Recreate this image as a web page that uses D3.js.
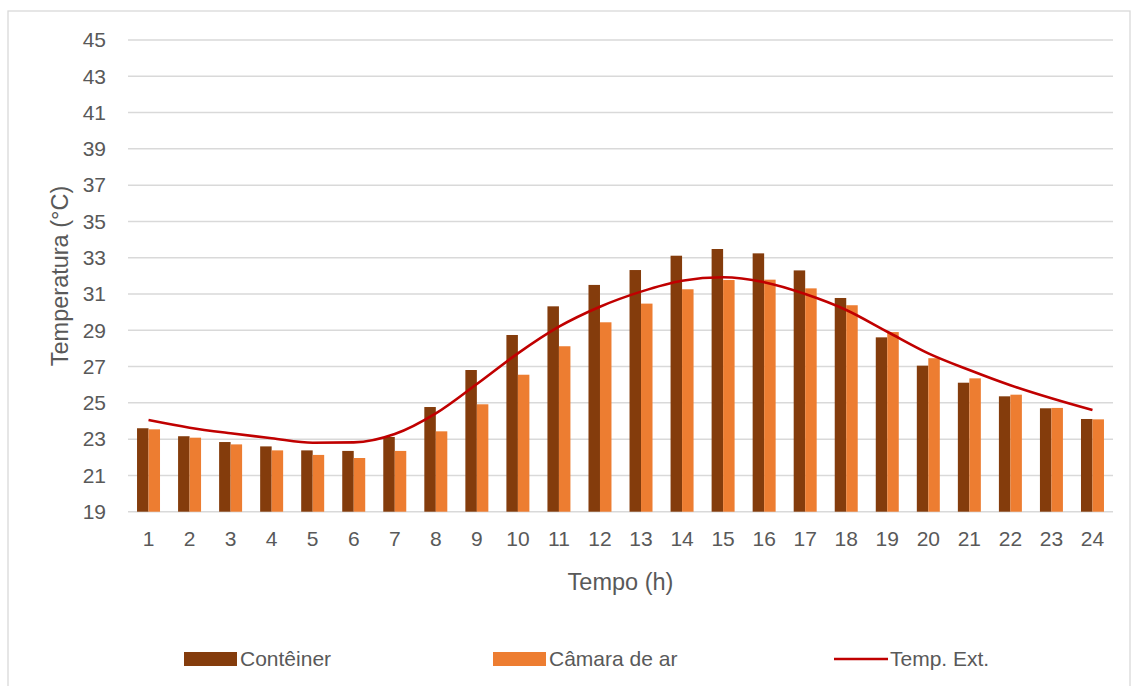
<!DOCTYPE html>
<html>
<head>
<meta charset="utf-8">
<script src="https://cdn.jsdelivr.net/npm/d3@7"></script>
<style>
  html, body { margin: 0; padding: 0; background: #fff; }
  svg { display: block; font-family: "Liberation Sans", Arial, sans-serif; }
</style>
</head>
<body>
<svg id="chart" width="1131" height="686"></svg>
<script>
// Hourly temperatures (°C)
const hours = [1, 2, 3, 4, 5, 6, 7, 8, 9, 10, 11, 12, 13, 14, 15, 16, 17, 18, 19, 20, 21, 22, 23, 24];
const conteiner = [23.6, 23.16, 22.84, 22.6, 22.38, 22.35, 23.12, 24.77, 26.81, 28.74, 30.32, 31.5,
                   32.32, 33.11, 33.48, 33.24, 32.3, 30.78, 28.61, 27.05, 26.11, 25.36, 24.7, 24.11];
const camaraAr = [23.54, 23.08, 22.71, 22.38, 22.13, 21.96, 22.35, 23.43, 24.92, 26.55, 28.12, 29.44,
                  30.47, 31.26, 31.77, 31.79, 31.31, 30.38, 28.9, 27.46, 26.35, 25.45, 24.72, 24.09];
const tempExt = [24.05, 23.63, 23.32, 23.05, 22.8, 22.82, 23.28, 24.42, 26.04, 27.73, 29.2, 30.3,
                 31.13, 31.73, 31.92, 31.65, 31.0, 30.12, 28.92, 27.73, 26.81, 25.97, 25.25, 24.6];
const yTicks = [19, 21, 23, 25, 27, 29, 31, 33, 35, 37, 39, 41, 43, 45];
const seriesNames = ["Contêiner", "Câmara de ar", "Temp. Ext."];
const colors = { bar1: "#843C0C", bar2: "#ED7D31", line: "#C00000", grid: "#D9D9D9", text: "#595959" };

const svg = d3.select("#chart");
const plot = { left: 128, right: 1113, top: 40, bottom: 511.7 };

// chart frame
svg.append("rect")
  .attr("x", 8).attr("y", 11).attr("width", 1122).attr("height", 690)
  .attr("fill", "none").attr("stroke", colors.grid).attr("stroke-width", 1.3);

const x = d3.scaleBand().domain(hours).range([plot.left, plot.right])
  .paddingInner(0.44).paddingOuter(0.22);
const xSeries = d3.scaleBand().domain([0, 1]).range([0, x.bandwidth()]).padding(0);
const y = d3.scaleLinear().domain([19, 45]).range([plot.bottom, plot.top]);

// horizontal gridlines
svg.append("g").selectAll("line").data(yTicks).join("line")
  .attr("x1", plot.left).attr("x2", plot.right)
  .attr("y1", d => y(d)).attr("y2", d => y(d))
  .attr("stroke", colors.grid).attr("stroke-width", 1.5);

// y axis labels
const yAxis = d3.axisLeft(y).tickValues(yTicks).tickSize(0).tickPadding(0);
const gy = svg.append("g").attr("transform", "translate(106,0)").call(yAxis);
gy.select(".domain").remove();
gy.selectAll("text").attr("font-size", 21).attr("fill", colors.text)
  .attr("font-family", "Liberation Sans, Arial, sans-serif");

// x axis labels
const xAxis = d3.axisBottom(x).tickSize(0).tickPadding(0);
const gx = svg.append("g").attr("transform", `translate(0,${plot.bottom + 19})`).call(xAxis);
gx.select(".domain").remove();
gx.selectAll("text").attr("font-size", 21).attr("fill", colors.text)
  .attr("font-family", "Liberation Sans, Arial, sans-serif");

// bars
const barData = hours.map((h, i) => ({ h, vals: [conteiner[i], camaraAr[i]] }));
const groups = svg.append("g").selectAll("g").data(barData).join("g")
  .attr("transform", d => `translate(${x(d.h)},0)`);
groups.selectAll("rect").data(d => d.vals.map((v, k) => ({ v, k }))).join("rect")
  .attr("x", d => xSeries(d.k))
  .attr("width", xSeries.bandwidth())
  .attr("y", d => y(d.v))
  .attr("height", d => y(19) - y(d.v))
  .attr("fill", d => d.k === 0 ? colors.bar1 : colors.bar2);

// smoothed outdoor temperature line
const line = d3.line()
  .x((d, i) => x(hours[i]) + x.bandwidth() / 2)
  .y(d => y(d))
  .curve(d3.curveMonotoneX);
svg.append("path").datum(tempExt)
  .attr("d", line)
  .attr("fill", "none").attr("stroke", colors.line).attr("stroke-width", 2.6)
  .attr("stroke-linejoin", "round");

// axis titles
svg.append("text")
  .attr("x", (plot.left + plot.right) / 2).attr("y", 590)
  .attr("text-anchor", "middle").attr("font-size", 23.5).attr("fill", colors.text)
  .text("Tempo (h)");
svg.append("text")
  .attr("transform", "translate(68,276) rotate(-90)")
  .attr("text-anchor", "middle").attr("font-size", 23.5).attr("fill", colors.text)
  .text("Temperatura (°C)");

// legend
const legendX = [184, 493, 834];
const legend = svg.append("g").selectAll("g").data(seriesNames).join("g")
  .attr("transform", (d, i) => `translate(${legendX[i]},659)`);
legend.each(function (d, i) {
  const g = d3.select(this);
  if (i < 2) {
    g.append("rect").attr("x", 0).attr("y", -7).attr("width", 53).attr("height", 14)
      .attr("fill", i === 0 ? colors.bar1 : colors.bar2);
  } else {
    g.append("line").attr("x1", 0).attr("x2", 54).attr("y1", 0).attr("y2", 0)
      .attr("stroke", colors.line).attr("stroke-width", 2.6);
  }
  g.append("text").attr("x", 56).attr("y", 0).attr("dy", "0.35em")
    .attr("font-size", 21).attr("fill", colors.text).text(d);
});
</script>
</body>
</html>
